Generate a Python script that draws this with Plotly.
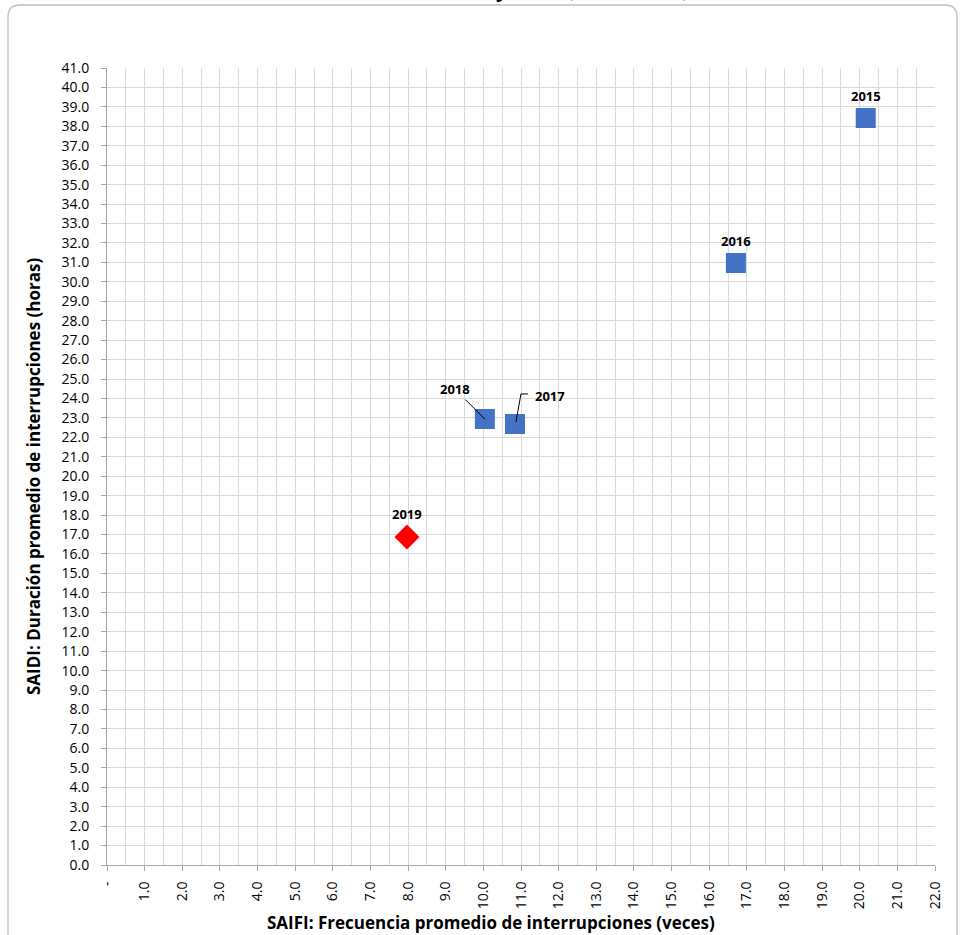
import plotly.graph_objects as go

years = ["2015", "2016", "2017", "2018", "2019"]
saifi = [20.16, 16.71, 10.84, 10.04, 7.97]
saidi = [38.43, 30.97, 22.69, 22.94, 16.87]

x_ticks = list(range(0, 23))
x_ticktext = ["-"] + [f"{v:.1f}" for v in x_ticks[1:]]
y_ticks = list(range(0, 42))
y_ticktext = [f"{v:.1f}" for v in y_ticks]

W, H = 961, 935
L, R, T, B = 107, 26, 68, 70
pw, ph = W - L - R, H - T - B
FONT = "Open Sans"

def px(x):
    return (x - L) / pw

def py(y):
    return (H - B - y) / ph

fig = go.Figure()
blue_idx = [0, 1, 2, 3]
fig.add_trace(go.Scatter(
    x=[saifi[i] for i in blue_idx], y=[saidi[i] for i in blue_idx],
    mode="markers",
    marker=dict(symbol="square", size=17, color="#4472C4",
                line=dict(color="#4472C4", width=3)),
    hoverinfo="skip", showlegend=False, cliponaxis=False))
fig.add_trace(go.Scatter(
    x=[saifi[4]], y=[saidi[4]], mode="markers",
    marker=dict(symbol="diamond", size=17, color="#FF0000",
                line=dict(color="#FF0000", width=2)),
    hoverinfo="skip", showlegend=False))

lab_font = dict(family=FONT, size=13, color="black")
ann = []
for i, off in [(0, 22), (1, 22), (4, 23)]:
    ann.append(dict(x=saifi[i], y=saidi[i], text=f"<b>{years[i]}</b>", showarrow=False,
                    yshift=off, font=lab_font, xanchor="center", yanchor="middle"))
ann.append(dict(x=saifi[3], y=saidi[3], text=f"<b>{years[3]}</b>", showarrow=True,
                arrowhead=0, arrowwidth=1, arrowcolor="black", ax=-30, ay=-30,
                standoff=0, startstandoff=0, font=lab_font))
ann.append(dict(x=saifi[2], y=saidi[2], text=f"<b>{years[2]}</b>", showarrow=False,
                xshift=35, yshift=28, font=lab_font))
ann.append(dict(xref="paper", yref="paper", x=px(491), y=py(922),
                text="<b>SAIFI: Frecuencia promedio de interrupciones (veces)</b>",
                showarrow=False, xanchor="center", yanchor="middle",
                font=dict(family=FONT, size=17, color="black")))
ann.append(dict(xref="paper", yref="paper", x=px(33), y=py(477),
                text="<b>SAIDI: Duración promedio de interrupciones (horas)</b>",
                showarrow=False, xanchor="center", yanchor="middle", textangle=-90,
                font=dict(family=FONT, size=17, color="black")))
# chart title, mostly above the top edge as in the reference
ann.append(dict(xref="paper", yref="paper", x=px(502), y=py(5),
                text="<b>Indicadores SAIDI y SAIFI (2015 - 2019)</b>",
                showarrow=False, xanchor="center", yanchor="bottom",
                font=dict(family=FONT, size=20, color="black")))

shapes = []
shapes.append(dict(type="path", xref="x", yref="y", xsizemode="pixel", ysizemode="pixel",
                   xanchor=saifi[2], yanchor=saidi[2],
                   path="M 13,30 L 6,30 L 1,2", line=dict(color="black", width=1)))
x0, x1, y0, y1, r = 8, 957, 5, 960, 12
path = (f"M {px(x0)},{py(y1)} L {px(x0)},{py(y0 + r)} "
        f"Q {px(x0)},{py(y0)} {px(x0 + r)},{py(y0)} "
        f"L {px(x1 - r)},{py(y0)} Q {px(x1)},{py(y0)} {px(x1)},{py(y0 + r)} "
        f"L {px(x1)},{py(y1)}")
shapes.append(dict(type="path", xref="paper", yref="paper", path=path,
                   line=dict(color="#BFBFBF", width=1.3), layer="below"))

fig.update_layout(
    width=W, height=H,
    margin=dict(l=L, r=R, t=T, b=B),
    paper_bgcolor="white", plot_bgcolor="white",
    font=dict(family=FONT, size=13, color="black"),
    annotations=ann, shapes=shapes,
    xaxis=dict(range=[0, 22], tickvals=x_ticks, ticktext=x_ticktext, tickangle=-90,
               showgrid=True, gridcolor="#D9D9D9", gridwidth=1,
               minor=dict(dtick=0.5, showgrid=True, gridcolor="#D9D9D9", gridwidth=1),
               showline=True, linecolor="#A6A6A6", linewidth=1,
               ticks="outside", ticklen=5, tickcolor="#A6A6A6", ticklabelstandoff=5,
               zeroline=False, tickfont=dict(family=FONT, size=14)),
    yaxis=dict(range=[0, 41], tickvals=y_ticks, ticktext=y_ticktext,
               showgrid=True, gridcolor="#D9D9D9", gridwidth=1,
               showline=True, linecolor="#A6A6A6", linewidth=1,
               ticks="outside", ticklen=5, tickcolor="#A6A6A6", ticklabelstandoff=9,
               zeroline=False, tickfont=dict(family=FONT, size=14)),
)

fig.write_html("out.html", config={"displayModeBar": False},
               post_script="document.body.style.margin='0px';")
